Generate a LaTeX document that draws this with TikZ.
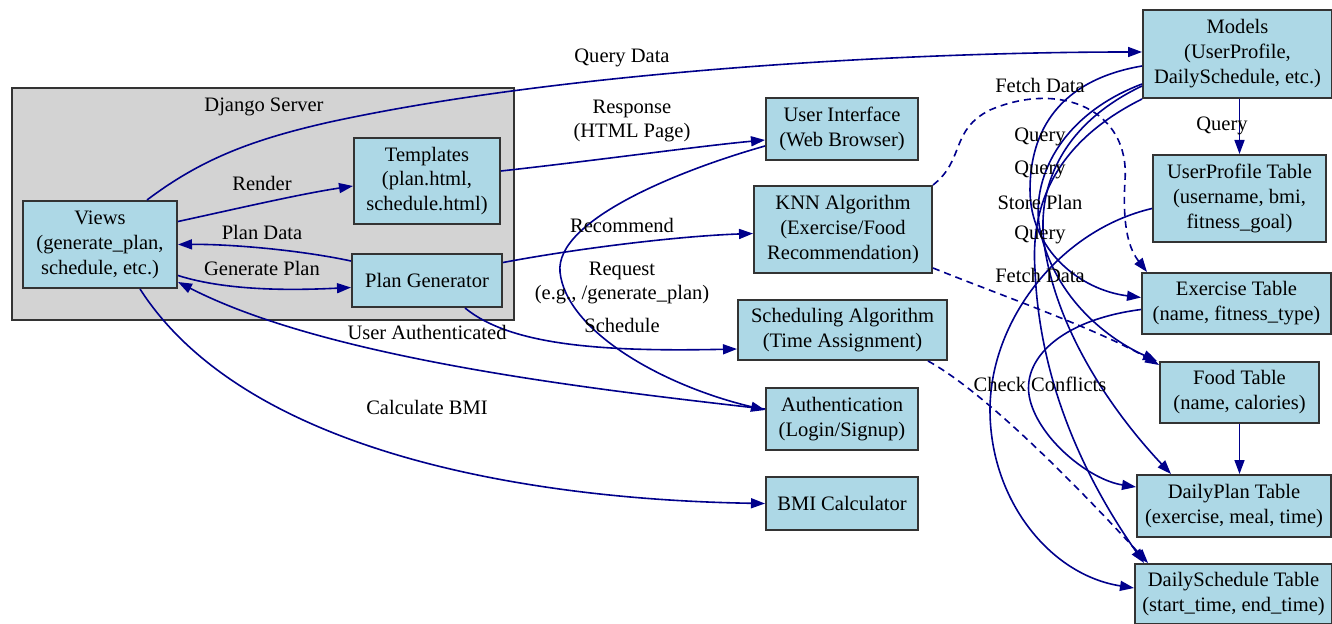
\documentclass[tikz,border=0pt]{standalone}
\usepackage{fontspec}
\setmainfont{Liberation Serif}
\usetikzlibrary{arrows.meta,calc}
\definecolor{nfill}{HTML}{ADD8E6}
\definecolor{navy}{HTML}{00008B}
\definecolor{clgray}{HTML}{D3D3D3}
\definecolor{bord}{HTML}{333333}
\newcommand\dfont{\fontsize{10.3}{12.5}\selectfont}
\tikzset{
  box/.style={draw=bord,line width=1bp,fill=nfill,align=center,inner sep=0pt,font=\dfont},
  cluster/.style={draw=bord,line width=1bp,fill=clgray,inner sep=0pt},
  lbl/.style={align=center,inner sep=0pt,font=\dfont},
  ar/.style={-{Triangle[length=7bp,width=5bp]},line width=0.8bp,draw=navy},
  dar/.style={ar,dash pattern=on 3.5bp off 2.5bp},
}

\begin{document}
\begin{tikzpicture}[x=0.5bp,y=-0.5bp]
  \useasboundingbox (0,0) rectangle (1332,624);
  \node[cluster,minimum width=251bp,minimum height=116bp] (django) at (263,204) {};
  \node[lbl] (djlbl) at (264,107) {Django Server};

  \node[box,minimum width=77bp,minimum height=43.5bp] (views) at (100,244.5) {Views\\(generate\_plan,\\schedule, etc.)};
  \node[box,minimum width=73bp,minimum height=43bp] (tmpl) at (427,181) {Templates\\(plan.html,\\schedule.html)};
  \node[box,minimum width=75bp,minimum height=26.5bp] (plangen) at (427,280.5) {Plan Generator};
  \node[box,minimum width=76bp,minimum height=31bp] (ui) at (842,129) {User Interface\\(Web Browser)};
  \node[box,minimum width=89bp,minimum height=43.5bp] (knn) at (843,229.5) {KNN Algorithm\\(Exercise/Food\\Recommendation)};
  \node[box,minimum width=104.5bp,minimum height=30bp] (sched) at (842.5,330) {Scheduling Algorithm\\(Time Assignment)};
  \node[box,minimum width=76bp,minimum height=31bp] (auth) at (842,419) {Authentication\\(Login/Signup)};
  \node[box,minimum width=76bp,minimum height=26.5bp] (bmi) at (842,503.5) {BMI Calculator};
  \node[box,minimum width=94.5bp,minimum height=44bp] (models) at (1237.5,54) {Models\\(UserProfile,\\DailySchedule, etc.)};
  \node[box,minimum width=86.5bp,minimum height=43.5bp] (uprof) at (1239.5,198.5) {UserProfile Table\\(username, bmi,\\fitness\_goal)};
  \node[box,minimum width=94.5bp,minimum height=30.5bp] (exer) at (1236.5,303.5) {Exercise Table\\(name, fitness\_type)};
  \node[box,minimum width=79.5bp,minimum height=30.5bp] (food) at (1239.5,392.5) {Food Table\\(name, calories)};
  \node[box,minimum width=97bp,minimum height=31bp] (dplan) at (1234,506) {DailyPlan Table\\(exercise, meal, time)};
  \node[box,minimum width=98.5bp,minimum height=30bp] (dsched) at (1233.5,594) {DailySchedule Table\\(start\_time, end\_time)};

  \draw[ar] ($(views.north west)+(125,0)$) .. controls (200,160) and (250,140) .. (330,122)
    .. controls (560,72) and (900,52) .. ($(models.west)+(0,-2)$);
  \draw[ar] ($(views.east)+(0,-23)$) .. controls (240,208) and (300,194) .. ($(tmpl.west)+(0,5)$);
  \draw[ar] ($(tmpl.east)+(0,-10)$) .. controls (600,160) and (700,146) .. ($(ui.west)+(0,11)$);
  \draw[ar] ($(plangen.north west)+(0,8)$) .. controls (300,250) and (230,244) .. (views.east);
  \draw[ar] ($(views.east)+(0,31)$) .. controls (230,292) and (300,290) .. ($(plangen.west)+(0,7)$);
  \draw[ar] ($(plangen.east)+(0,-18)$) .. controls (580,248) and (680,236) .. ($(knn.west)+(0,4)$);
  \draw[ar] ($(plangen.south)+(38,0)$) .. controls (510,345) and (600,352) .. ($(sched.west)+(0,19)$);
  \draw[ar] ($(ui.west)+(0,17)$) .. controls (680,170) and (555,220) .. (560,272)
    .. controls (566,330) and (660,385) .. ($(auth.west)+(0,-9)$);
  \draw[ar] ($(auth.west)+(0,-10)$) .. controls (600,390) and (330,360) .. ($(views.south east)+(0,-7)$);
  \draw[ar] ($(views.south)+(40,0)$) .. controls (250,460) and (550,500) .. (bmi.west);

  \draw[dar] (knn.north east) .. controls (965,160) and (950,130) .. (990,110)
    .. controls (1060,80) and (1130,110) .. (1125,180) .. controls (1122,230) and (1130,250) .. ($(exer.north west)+(6,0)$);
  \draw[dar] ($(knn.south east)+(0,-6)$) .. controls (1000,295) and (1100,330) .. ($(food.north west)+(0,4)$);
  \draw[dar] ($(sched.south east)+(-20,0)$) .. controls (990,395) and (1090,500) .. ($(dsched.north west)+(14,0)$);

  \draw[ar] (uprof.north |- models.south) -- (uprof.north);
  \draw[ar] ($(models.west)+(0,12)$) .. controls (1060,80) and (1030,130) .. (1030,190)
    .. controls (1030,250) and (1080,290) .. ($(exer.west)+(0,-6)$);
  \draw[ar] ($(models.west)+(0,30)$) .. controls (1060,115) and (1030,180) .. (1040,230)
    .. controls (1055,300) and (1110,340) .. ($(food.north west)+(-2,0)$);
  \draw[ar] ($(models.west)+(0,32)$) .. controls (1060,125) and (1035,190) .. (1045,250)
    .. controls (1060,340) and (1120,420) .. ($(dplan.north west)+(35,0)$);
  \draw[ar] (models.south west) .. controls (1060,140) and (1030,200) .. (1035,270)
    .. controls (1040,400) and (1100,500) .. ($(dsched.north west)+(10,0)$);
  \draw[ar] ($(uprof.west)+(0,10)$) .. controls (1060,230) and (990,320) .. (990,410)
    .. controls (990,500) and (1050,575) .. ($(dsched.west)+(0,-6)$);
  \draw[ar] ($(exer.west)+(0,6)$) .. controls (1060,320) and (1020,360) .. (1030,400)
    .. controls (1040,440) and (1090,480) .. ($(dplan.west)+(0,-19)$);
  \draw[ar] (food.south) -- (food.south |- dplan.north);

  \node[lbl] (lqd) at (622,58) {Query Data};
  \node[lbl] (lresp) at (632,121) {Response\\(HTML Page)};
  \node[lbl] (lrend) at (262,183) {Render};
  \node[lbl] (lpd) at (262,232) {Plan Data};
  \node[lbl] (lgp) at (262,268) {Generate Plan};
  \node[lbl] (lrec) at (622,225) {Recommend};
  \node[lbl] (lreq) at (622,283) {Request\\(e.g., /generate\_plan)};
  \node[lbl] (lsch) at (622,325) {Schedule};
  \node[lbl] (luser) at (427,332) {User Authenticated};
  \node[lbl] (lbmi) at (427,407) {Calculate BMI};
  \node[lbl] (lfd1) at (1040,85) {Fetch Data};
  \node[lbl] (lq1) at (1040,137) {Query};
  \node[lbl] (lq2) at (1040,170) {Query};
  \node[lbl] (lsp) at (1040,202) {Store Plan};
  \node[lbl] (lq3) at (1040,235) {Query};
  \node[lbl] (lfd2) at (1040,275) {Fetch Data};
  \node[lbl] (lcc) at (1040,384) {Check Conflicts};
  \node[lbl] (lq4) at (1222,126) {Query};
\end{tikzpicture}
\end{document}
